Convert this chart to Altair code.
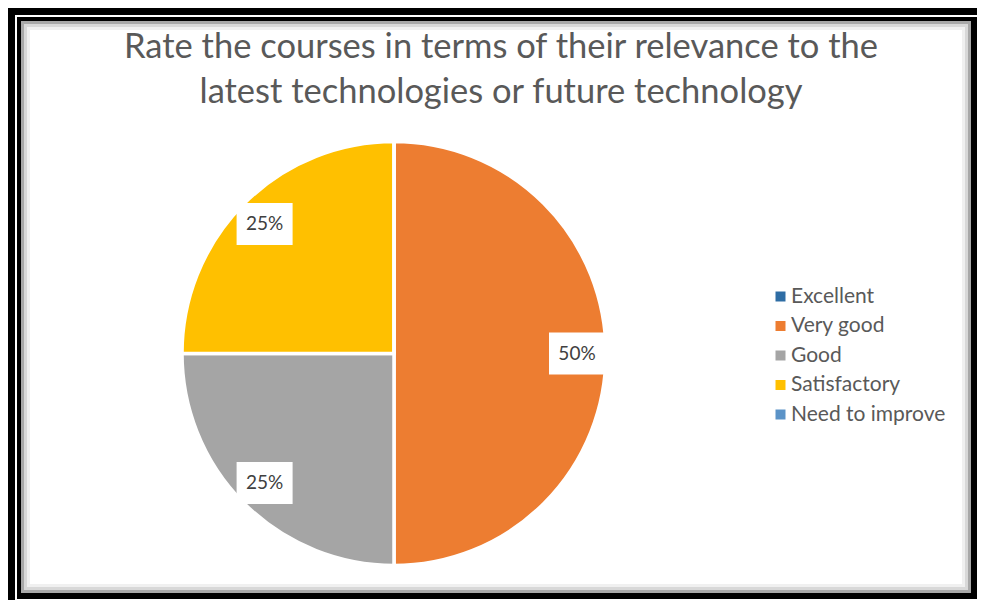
import altair as alt
import pandas as pd

categories = ["Excellent", "Very good", "Good", "Satisfactory", "Need to improve"]
shares = [0, 50, 25, 25, 0]
colors = ["#2E6DA4", "#ED7D31", "#A5A5A5", "#FFC000", "#5B93C7"]
title_lines = ["Rate the courses in terms of their relevance to the",
               "latest technologies or future technology"]

df = pd.DataFrame({"category": categories, "share": shares,
                   "order": list(range(len(categories)))})

W, H = 969, 592
CX, CY, R = 386, 345.5, 212
LR = 183
one = alt.Data(values=[{}])


def rect(x, y, x2, y2, **kw):
    return alt.Chart(one).mark_rect(**kw).encode(
        x=alt.value(x), x2=alt.value(x2), y=alt.value(y), y2=alt.value(y2))


frames = [
    rect(0, 0, W, H, fill="black"),
    rect(7, 7, W, H, fill="white"),
    rect(9, 9, W, H - 1, fill="black"),
    rect(13, 13, W - 6, H - 7, fill="white"),
    rect(14.5, 14.5, W - 7.5, H - 8.5, fill=None, stroke="#a8a8a8", strokeWidth=3),
    rect(17.5, 17.5, W - 10.5, H - 11.5, fill=None, stroke="#d8d8d8", strokeWidth=3),
    rect(20.5, 20.5, W - 13.5, H - 14.5, fill=None, stroke="#f0f0f0", strokeWidth=3),
]

color = alt.Color(
    "category:N",
    scale=alt.Scale(domain=categories, range=colors),
    sort=categories,
    legend=alt.Legend(title=None, orient="none", legendX=762, legendY=278,
                      symbolType="square", symbolSize=100, symbolStrokeWidth=0,
                      labelFont="Lato", labelFontSize=21, labelColor="#595959",
                      rowPadding=7.5, labelOffset=0, padding=0),
)

pie = alt.Chart(df).mark_arc(radius=R, stroke="white", strokeWidth=3.5).encode(
    theta=alt.Theta("share:Q", stack=True),
    color=color,
    order=alt.Order("order:Q"),
    x=alt.value(CX), y=alt.value(CY),
)

base = (alt.Chart(df)
        .transform_filter("datum.share > 0")
        .transform_window(cum="sum(share)", sort=[alt.SortField("order")], frame=[None, 0])
        .transform_joinaggregate(total="sum(share)")
        .transform_calculate(ang="2*PI*(datum.cum - datum.share/2)/datum.total")
        .transform_calculate(lx=f"{CX} + {LR}*sin(datum.ang)",
                             ly=f"{CY} - {LR}*cos(datum.ang)",
                             label="datum.share + '%'")
        .transform_calculate(bx1="datum.lx - 28", bx2="datum.lx + 28",
                             by1="datum.ly - 21", by2="datum.ly + 21"))

boxes = base.mark_rect(fill="white").encode(
    x=alt.X("bx1:Q", scale=None), x2="bx2:Q",
    y=alt.Y("by1:Q", scale=None), y2="by2:Q")

labels = base.mark_text(font="Lato", fontSize=19, color="#404040").encode(
    x=alt.X("lx:Q", scale=None), y=alt.Y("ly:Q", scale=None), text="label:N")

title = alt.Chart(one).mark_text(
    text=title_lines, font="Lato", fontSize=34.5, color="#595959",
    lineHeight=45, baseline="alphabetic", align="center",
).encode(x=alt.value(493), y=alt.value(50))

chart = alt.layer(*frames, pie, boxes, labels, title).properties(
    width=W, height=H, autosize=alt.AutoSizeParams(type="none"), padding=0
).configure_view(stroke=None)

chart.save("out.html", embed_options={"renderer": "svg", "actions": False})
